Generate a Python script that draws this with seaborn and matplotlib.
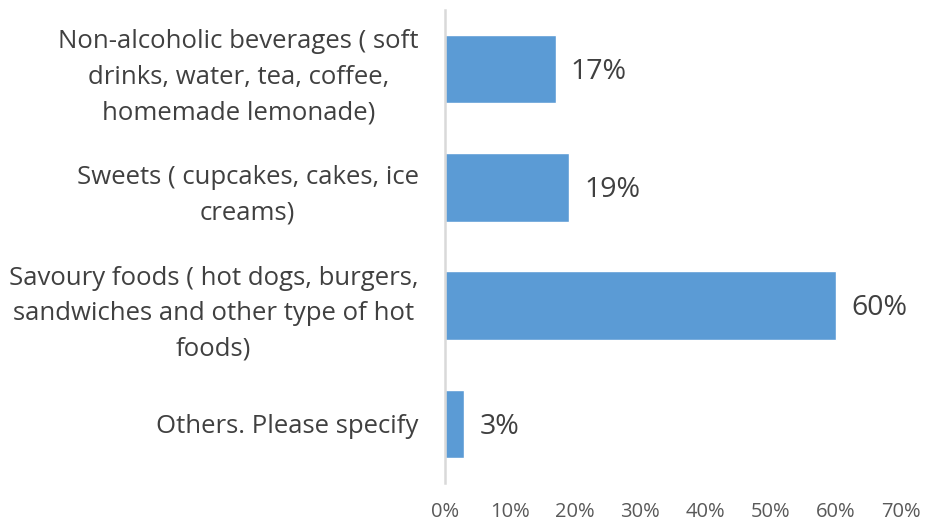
import matplotlib
matplotlib.use("Agg")
import matplotlib.pyplot as plt
import seaborn as sns
import pandas as pd

categories = [
    "Non-alcoholic beverages ( soft\ndrinks, water, tea, coffee,\nhomemade lemonade)",
    "Sweets ( cupcakes, cakes, ice\ncreams)",
    "Savoury foods ( hot dogs, burgers,\nsandwiches and other type of hot\nfoods)",
    "Others. Please specify",
]
shares = [17, 19, 60, 3]
x_ticks = [0, 10, 20, 30, 40, 50, 60, 70]
x_tick_labels = [f"{t}%" for t in x_ticks]

sns.set_theme(style="white")
plt.rcParams["font.family"] = ["Open Sans", "DejaVu Sans"]

df = pd.DataFrame({"category": categories, "share": shares})

fig = plt.figure(figsize=(9.25, 5.27), dpi=100)
ax = fig.add_axes([0.481, 0.0835, 0.493, 0.8975])

sns.barplot(data=df, x="share", y="category", color="#5B9BD5",
            saturation=1, width=0.58, ax=ax, orient="h")

ax.set_xlim(0, 70)
ax.set_xticks(x_ticks)
ax.set_xticklabels(x_tick_labels, fontsize=14.5, color="#595959")
ax.tick_params(axis="x", length=0, pad=14)
ax.tick_params(axis="y", length=0, pad=19)
for lbl in ax.get_yticklabels():
    lbl.set_fontsize(18.5)
    lbl.set_color("#404040")
    lbl.set_multialignment("center")
    lbl.set_linespacing(1.55)
ax.set_xlabel("")
ax.set_ylabel("")

for s in ["top", "right", "bottom"]:
    ax.spines[s].set_visible(False)
ax.spines["left"].set_color("#D9D9D9")
ax.spines["left"].set_linewidth(1.8)

for i, v in enumerate(shares):
    ax.annotate(f"{v}%", xy=(v, i), xytext=(11, -2), textcoords="offset points",
                va="center", ha="left", fontsize=20.5, color="#404040")

fig.savefig("out.png", dpi=100)
